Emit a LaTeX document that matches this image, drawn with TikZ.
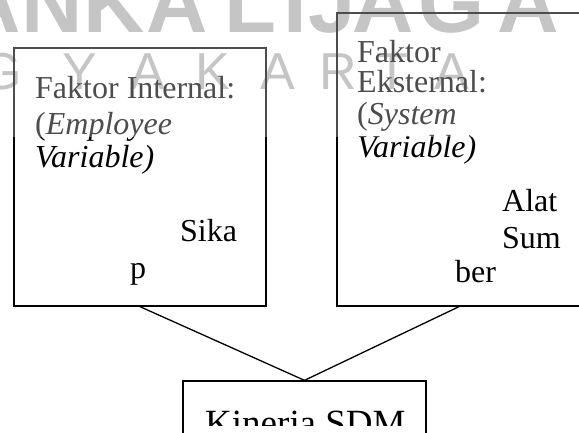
\documentclass[tikz,border=0pt]{standalone}
\usepackage{fontspec}
\setmainfont{Liberation Serif}
\newfontfamily\wmfont{Liberation Sans}
\begin{document}
\begin{tikzpicture}[x=1pt,y=-1pt,
  box/.style={draw=black, line width=1.3pt, rectangle, inner sep=0pt},
  txt/.style={anchor=base west, inner sep=0pt, font=\fontsize{32}{34}\selectfont},
  bigtxt/.style={anchor=base west, inner sep=0pt, font=\fontsize{37}{40}\selectfont},
  wmA/.style={anchor=base, inner sep=0pt, text=black!32, font=\wmfont\bfseries\fontsize{85}{85}\selectfont},
  wmB/.style={anchor=base, inner sep=0pt, text=black!32, font=\wmfont\fontsize{52}{52}\selectfont},
  link/.style={line width=1.3pt}]
\useasboundingbox (0,0) rectangle (579,433);
\clip (0,0) rectangle (579,433);
% watermark
\foreach \x/\c [count=\i] in {-10/A,52/N,114/K,177/A,250/L,295/I,332/J,383/A,452/G,528/A}
  \node[wmA] (wa\i) at (\x,33) {\c};
\foreach \x/\c [count=\i] in {2/G,80/Y,148/A,213/K,278/A,338/R,392/T,452/A}
  \node[wmB] (wb\i) at (\x,90) {\c};
% boxes
\node[box, minimum width=252pt, minimum height=258pt] (L) at (140,177) {};
\node[box, minimum width=244pt, minimum height=293pt] (R) at (459,159.5) {};
\node[box, minimum width=243pt, minimum height=90pt] (K) at (304.5,426) {};
% texts
\node[txt] (l1) at (35,99) {Faktor Internal:};
\node[txt] (l2) at (35,135) {(\textit{Employee}};
\node[txt] (l3) at (35,168) {\textit{Variable)}};
\node[txt] (l4) at (180,242) {Sika};
\node[txt] (l5) at (130,278) {p};
\node[txt] (r1) at (357,63) {Faktor};
\node[txt] (r2) at (357,93) {Eksternal:};
\node[txt] (r3) at (357,125) {(\textit{System}};
\node[txt] (r4) at (357,158) {\textit{Variable)}};
\node[txt] (r5) at (502,212) {Alat};
\node[txt] (r6) at (502,248) {Sum};
\node[txt] (r7) at (455,283) {ber};
\begin{scope}
  \clip (0,0) rectangle (579,425);
  \node[bigtxt] (k1) at (205,435) {Kinerja SDM};
\end{scope}
% connectors
\draw[link] (L.south) -- (K.north);
\draw[link] (R.south) -- (K.north);
% translucent overlay of the watermark band
\fill[white, opacity=0.3] (0,0) rectangle (579,137);
\end{tikzpicture}
\end{document}
